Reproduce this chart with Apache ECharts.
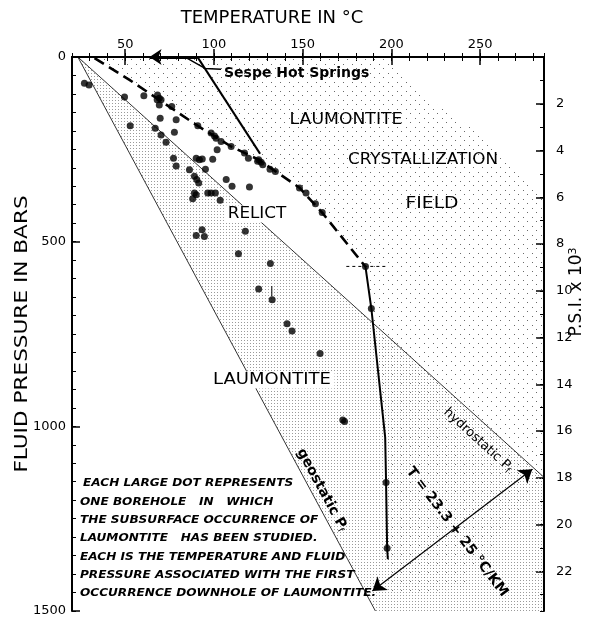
<!DOCTYPE html>
<html>
<head>
<meta charset="utf-8">
<title>Laumontite - temperature vs fluid pressure</title>
<script src="https://cdn.jsdelivr.net/npm/echarts@6.0.0/dist/echarts.min.js"></script>
<style>
  html, body { margin: 0; padding: 0; background: #fff; }
  #main { width: 590px; height: 617px; }
</style>
</head>
<body>
<div id="main"></div>
<script>
// [temperature C, fluid pressure bars]
var boreholes = [
  [27, 71], [29.6, 76], [49.6, 108], [60.5, 105],
  [68.2, 103], [69.2, 112], [70.2, 116], [68, 116], [69.2, 130],
  [76.2, 134], [69.7, 166], [78.7, 170], [52.8, 186], [66.9, 193], [77.7, 204], [70.2, 211],
  [90.9, 186], [98.4, 206], [100.3, 214], [101.2, 220], [104, 229], [109.7, 242], [73, 231], [101.8, 251],
  [117.2, 260], [119.4, 274], [125.2, 278], [126.6, 285], [127.5, 292], [124.6, 282],
  [131.6, 304], [134.6, 310], [148.2, 355], [151.9, 368], [157.2, 397], [161, 421],
  [77.2, 274], [78.7, 295], [90, 274], [91.8, 278], [93.4, 276], [99.3, 277], [95.2, 304], [86.2, 305],
  [89, 323], [90.3, 332], [91.4, 341], [106.9, 332], [110.2, 350], [120, 352],
  [89, 368], [88, 384], [90, 373], [96.5, 368], [98.4, 368], [100.8, 368], [103.5, 388],
  [117.7, 472], [90, 483], [93.3, 468], [94.6, 486], [113.8, 533], [131.8, 559],
  [125.2, 628], [132.8, 657], [141.2, 722], [144, 742], [159.8, 803], [172.6, 983], [173.6, 987],
  [185.4, 567], [188.7, 681], [197, 1152], [197.6, 1330]
];
var dashedCurve = [[32.7, 3], [52.4, 62], [90.7, 186], [109.9, 243], [125.1, 278], [148.2, 354], [161.1, 422], [174.6, 503], [185.4, 568]];
var solidCurve = [[185.4, 568], [188.7, 681], [196.5, 1030], [197, 1152], [197.6, 1330], [198, 1360]];
var sespeLine = [[90.7, 0], [126, 262]];
var sespeArrow = [[90.7, 0], [63.7, 0]];
var sespeLeader = [[104, 33], [95, 31], [85, 4]];
var geostatic = [[23.3, 0], [191, 1500]];
var hydrostatic = [[23.3, 0], [286, 1138]];
var relictField = [[23.3, 0], [191, 1500], [286, 1500], [286, 1138]];
var crystalField = [
  [32.7, 0], [198.9, 0], [221.4, 116], [255.2, 224], [277.7, 332], [286, 390], [286, 1143],
  [238.3, 1441], [198.9, 1454], [198, 1360], [197.6, 1330], [197, 1152], [196.5, 1030],
  [188.7, 681], [185.4, 567], [174.6, 503], [161.1, 422], [148.2, 354], [125.1, 278],
  [109.9, 243], [90.7, 186], [52.4, 62], [32.7, 3]
];
var gradientArrow = [[189.3, 1446], [279.4, 1116]];
var crossHair = [[174.6, 567], [197.2, 567]];
var pointerTick = [[132.6, 620], [132.6, 648]];

var tempTicks = [50, 100, 150, 200, 250];
var pressTicks = [0, 500, 1000, 1500];
var psiTicks = [2, 4, 6, 8, 10, 12, 14, 16, 18, 20, 22];

var noteLines = [
  'EACH LARGE DOT REPRESENTS',
  'ONE BOREHOLE   IN   WHICH',
  'THE SUBSURFACE OCCURRENCE OF',
  'LAUMONTITE   HAS BEEN STUDIED.',
  'EACH IS THE TEMPERATURE AND FLUID',
  'PRESSURE ASSOCIATED WITH THE FIRST',
  'OCCURRENCE DOWNHOLE OF LAUMONTITE.'
];

var FONT = 'DejaVu Sans';

// stipple fills
function stipple(size, dots, color) {
  var c = document.createElement('canvas');
  c.width = size; c.height = size;
  var ctx = c.getContext('2d');
  ctx.fillStyle = color;
  dots.forEach(function (d) { ctx.fillRect(d[0], d[1], 1, 1); });
  return { image: c, repeat: 'repeat' };
}
var fineDots = stipple(3, [[1, 1]], '#9a9a9a');
var coarseDots = stipple(9, [[1, 1], [5, 5]], '#6a6a6a');

function polygonSeries(points, fill) {
  return {
    type: 'custom', silent: true, z: 1, data: [0],
    renderItem: function (params, api) {
      return {
        type: 'polygon',
        shape: { points: points.map(function (p) { return api.coord(p); }) },
        style: { fill: fill, stroke: null }
      };
    }
  };
}

function lineSeries(data, width, type) {
  return {
    type: 'line', data: data, showSymbol: false, silent: true, z: 3,
    lineStyle: { color: '#000', width: width, type: type || 'solid' }
  };
}

function plain(v) { return String(v); }

function xAx(pos, major) {
  return {
    type: 'value', position: pos, min: 20, max: 286,
    interval: major ? undefined : 10,
    axisLine: { show: major, lineStyle: { color: '#000', width: 2 } },
    axisTick: major
      ? { inside: true, length: 8, customValues: tempTicks, lineStyle: { color: '#000', width: 1.5 } }
      : { inside: true, length: 4, lineStyle: { color: '#000', width: 1 } },
    axisLabel: (major && pos === 'top')
      ? { customValues: tempTicks, color: '#000', fontSize: 13, fontFamily: FONT, margin: 6, formatter: plain }
      : { show: false },
    splitLine: { show: false }
  };
}

function yAx(pos, major, psi) {
  var ax = {
    type: 'value', position: pos, inverse: true,
    min: 0, max: psi ? 23.7 : 1500,
    axisLine: { show: major, lineStyle: { color: '#000', width: 2 } },
    splitLine: { show: false }
  };
  if (!major) {
    ax.interval = psi ? 1 : 50;
    ax.axisTick = { inside: true, length: 4, lineStyle: { color: '#000', width: 1 } };
    ax.axisLabel = { show: false };
  } else {
    var vals = psi ? psiTicks : pressTicks;
    ax.axisTick = { inside: true, length: 8, customValues: vals, lineStyle: { color: '#000', width: 1.5 } };
    ax.axisLabel = { customValues: vals, color: '#000', fontSize: 13, fontFamily: FONT, margin: psi ? 12 : 6, formatter: plain };
  }
  return ax;
}

function label(text, x, y, opts) {
  opts = opts || {};
  return {
    type: 'text', x: x, y: y, rotation: opts.rot || 0, scaleX: opts.sx || 1, z: 100,
    style: {
      text: text, fill: '#000',
      font: opts.font || ('15px ' + FONT),
      align: opts.align || 'center', verticalAlign: 'middle',
      backgroundColor: opts.bg || null, padding: opts.bg ? [1, 3] : 0,
      rich: opts.rich
    }
  };
}

var sub = { s: { fontSize: 9, fontFamily: FONT, verticalAlign: 'bottom', padding: [6, 0, 0, 0] } };

var graphics = [
  label('TEMPERATURE IN °C', 272, 18, { font: '18px ' + FONT }),
  label('FLUID PRESSURE IN BARS', 22, 334, { font: '18px ' + FONT, rot: Math.PI / 2, sx: 1.2 }),
  label('P.S.I. x 10{t|3}', 577, 292, { font: '17px ' + FONT, rot: Math.PI / 2,
    rich: { t: { fontSize: 11, fontFamily: FONT, verticalAlign: 'top', padding: [0, 0, 8, 0] } } }),
  label('Sespe Hot Springs', 224, 73, { font: 'bold 14px ' + FONT, align: 'left' }),
  label('LAUMONTITE', 346, 120, { font: '15px ' + FONT, sx: 1.15 }),
  label('CRYSTALLIZATION', 423, 160, { font: '15px ' + FONT, sx: 1.12 }),
  label('FIELD', 432, 204, { font: '15px ' + FONT, sx: 1.25 }),
  label('RELICT', 257, 214, { font: '15px ' + FONT, sx: 1.12, bg: '#fff' }),
  label('LAUMONTITE', 272, 380, { font: '15px ' + FONT, sx: 1.2, bg: '#fff' }),
  label('hydrostatic P{s|f}', 478, 440, { font: '13px ' + FONT, rot: -0.738, rich: sub }),
  label('geostatic P{s|f}', 322, 490, { font: 'bold 14px ' + FONT, rot: -1.077, rich: sub }),
  label('T = 23.3 + 25 °C/KM', 457, 532, { font: 'bold 14px ' + FONT, rot: -0.92 })
];
var noteY = [483, 502, 520, 538, 557, 575, 593];
noteLines.forEach(function (t, i) {
  graphics.push(label(t, i === 0 ? 83 : 80, noteY[i], { font: 'italic bold 10px ' + FONT, align: 'left', sx: 1.21 }));
});

var chart = echarts.init(document.getElementById('main'));
chart.setOption({
  animation: false,
  backgroundColor: '#fff',
  grid: { left: 72, right: 46, top: 57, bottom: 6, outerBoundsMode: 'none' },
  xAxis: [xAx('top', true), xAx('top', false), xAx('bottom', true), xAx('bottom', false)],
  yAxis: [yAx('left', true, false), yAx('left', false, false), yAx('right', true, true), yAx('right', false, true)],
  graphic: graphics,
  series: [
    polygonSeries(relictField, fineDots),
    polygonSeries(crystalField, coarseDots),
    lineSeries(geostatic, 0.8),
    lineSeries(hydrostatic, 0.8),
    lineSeries(sespeLine, 2.2),
    lineSeries(sespeLeader, 1.4),
    lineSeries(dashedCurve, 2.6, [11, 6]),
    lineSeries(solidCurve, 2),
    lineSeries(crossHair, 1, [3, 3]),
    lineSeries(pointerTick, 1),
    {
      type: 'line', data: [], silent: true, z: 4,
      markLine: {
        silent: true, animation: false, label: { show: false },
        data: [
          [{ coord: sespeArrow[0], symbol: 'none', lineStyle: { width: 3, color: '#000', type: 'solid' } },
           { coord: sespeArrow[1], symbol: 'arrow', symbolSize: 12 }],
          [{ coord: gradientArrow[0], symbol: 'arrow', symbolSize: 13, lineStyle: { width: 1.2, color: '#000', type: 'solid', curveness: 0.3 } },
           { coord: gradientArrow[1], symbol: 'arrow', symbolSize: 13 }]
        ]
      }
    },
    {
      type: 'scatter', data: boreholes, symbolSize: 7, silent: true, z: 5,
      itemStyle: { color: '#000' }
    }
  ]
});
</script>
</body>
</html>
